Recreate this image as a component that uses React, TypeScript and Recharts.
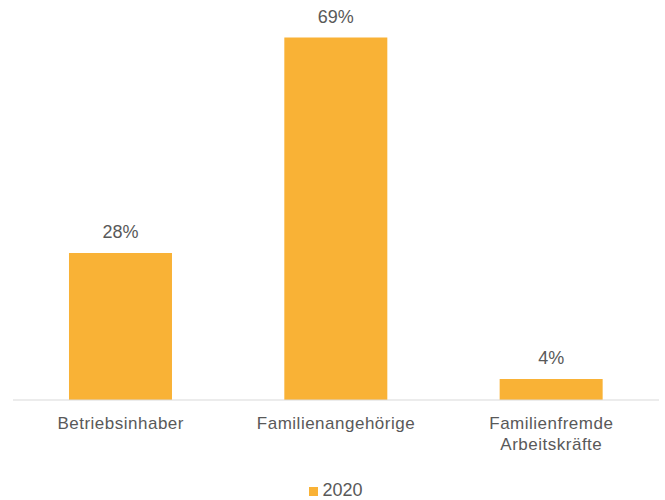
import React from "react";
import { BarChart, Bar, XAxis, YAxis, Legend, LabelList } from "recharts";

const categories = ["Betriebsinhaber", "Familienangehörige", "Familienfremde\nArbeitskräfte"];
const values2020 = [28, 69, 4];
const seriesName = "2020";

const data = categories.map((c, i) => ({ name: c, v: values2020[i] }));

const FONT = "'Liberation Sans', Arial, sans-serif";
const GRAY = "#595959";
const BAR = "#F9B236";

const Tick = (props: any) => {
  const { x, y, payload } = props;
  const lines = String(payload.value).split("\n");
  return (
    <g>
      {lines.map((l: string, i: number) => (
        <text
          key={i}
          x={x}
          y={y + 21 + i * 21}
          textAnchor="middle"
          fill={GRAY}
          fontSize={17}
          letterSpacing={0.5}
          fontFamily={FONT}
        >
          {l}
        </text>
      ))}
    </g>
  );
};

const LegendContent = () => (
  <div
    style={{
      height: 20,
      display: "flex",
      justifyContent: "center",
      alignItems: "center",
      fontFamily: FONT,
      fontSize: 18,
      color: GRAY,
    }}
  >
    <span style={{ display: "inline-block", width: 9, height: 9, background: BAR, marginRight: 4, marginTop: 2 }} />
    <span>{seriesName}</span>
  </div>
);

export default function App() {
  return (
    <div style={{ position: "absolute", left: 0, top: 0 }}>
      <BarChart
        width={665}
        height={500}
        data={data}
        margin={{ top: 6, right: 6, left: 13, bottom: 0 }}
        barCategoryGap="26%"
      >
        <YAxis hide domain={[0, 75]} />
        <XAxis
          dataKey="name"
          height={80}
          tickLine={false}
          axisLine={{ stroke: "#D9D9D9", strokeWidth: 1 }}
          tick={<Tick />}
          interval={0}
        />
        <Legend verticalAlign="bottom" content={<LegendContent />} />
        <Bar dataKey="v" name={seriesName} fill={BAR} isAnimationActive={false}>
          <LabelList
            dataKey="v"
            position="top"
            offset={15}
            formatter={(v: any) => `${v}%`}
            fill={GRAY}
            fontSize={18}
            fontFamily={FONT}
          />
        </Bar>
      </BarChart>
    </div>
  );
}
